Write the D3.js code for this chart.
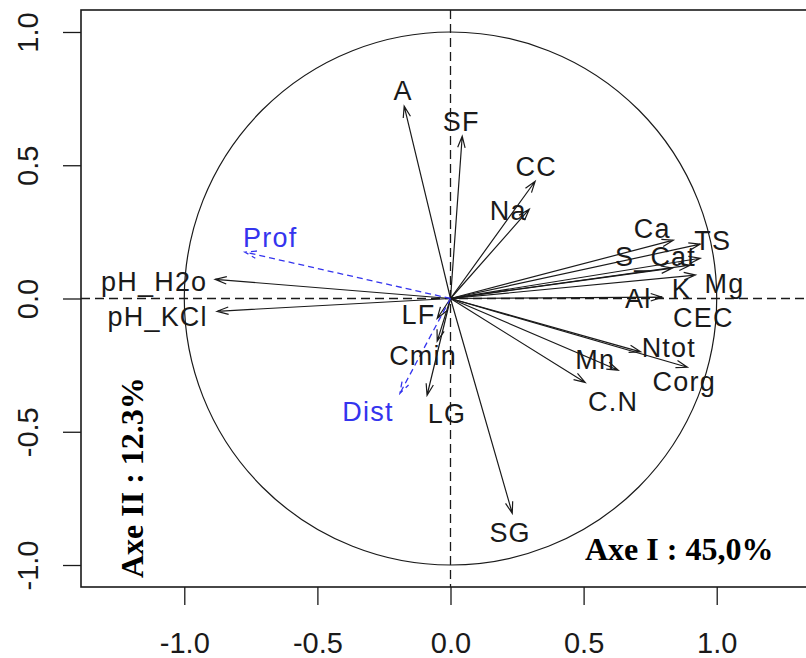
<!DOCTYPE html>
<html>
<head>
    <meta charset="UTF-8">
    <title>Cercle des corrélations</title>
    <script src="https://d3js.org/d3.v7.min.js"></script>
    <style>
        body { margin: 0; background: #fff; }
    </style>
</head>
<body>
    <svg class="chart"></svg>

    <script>
    // active variables: coordinates on axis I and II, and where the label sits
    const varNames = ["A", "SF", "CC", "Na", "Ca", "TS", "S_Cat", "K", "Mg", "CEC", "Al",
                      "Ntot", "Corg", "Mn", "C.N", "SG", "LG", "Cmin", "LF", "pH_KCl", "pH_H2o"];
    const axis1 = [-0.174, 0.044, 0.318, 0.296, 0.837, 0.938, 0.938, 0.834, 0.900, 0.920, 0.795,
                   0.714, 0.890, 0.630, 0.506, 0.232, -0.088, -0.050, -0.050, -0.877, -0.884];
    const axis2 = [0.722, 0.609, 0.440, 0.335, 0.219, 0.204, 0.151, 0.114, 0.125, 0.088, 0.005,
                   -0.200, -0.258, -0.269, -0.315, -0.806, -0.363, -0.160, -0.075, -0.048, 0.072];
    const labelX = [-0.178, 0.040, 0.322, 0.217, 0.758, 0.985, 0.770, 0.867, 1.029, 0.950, 0.705,
                    0.820, 0.878, 0.544, 0.611, 0.224, -0.013, -0.103, -0.120, -1.100, -1.113];
    const labelY = [0.781, 0.665, 0.496, 0.331, 0.264, 0.219, 0.160, 0.040, 0.057, -0.070, 0.000,
                    -0.183, -0.310, -0.228, -0.387, -0.877, -0.430, -0.213, -0.060, -0.066, 0.065];

    // supplementary variables (blue, dashed)
    const supNames = ["Prof", "Dist"];
    const supAxis1 = [-0.772, -0.190];
    const supAxis2 = [0.174, -0.356];
    const supLabelX = [-0.677, -0.310];
    const supLabelY = [0.230, -0.424];

    const ticks = [-1.0, -0.5, 0.0, 0.5, 1.0];
    const xTitle = "Axe I : 45,0%";
    const yTitle = "Axe II : 12.3%";

    const width = 806;
    const height = 658;
    const plot = {left: 81, right: 820, top: 10, bottom: 587};

    const svg = d3.select(".chart")
        .attr("width", width)
        .attr("height", height);

    const x_scale = d3.scaleLinear()
        .domain([-1.388, 1.388])
        .range([plot.left, plot.right]);

    const y_scale = d3.scaleLinear()
        .domain([-1.0825, 1.0825])
        .range([plot.bottom, plot.top]);

    const ink = "#1a1a1a";
    const blue = "#3434ee";
    const sans = "'Liberation Sans', Arial, sans-serif";
    const fmt = (d) => d3.format(".1f")(d).replace("\u2212", "-");

    // axes with long outward ticks
    const xAxis = svg.append("g")
        .attr("transform", `translate(0, ${plot.bottom})`)
        .call(d3.axisBottom(x_scale).tickValues(ticks).tickSize(18).tickSizeOuter(0).tickFormat(fmt));
    xAxis.select(".domain").remove();
    xAxis.selectAll("line").attr("stroke", ink).attr("stroke-width", 1.3);
    xAxis.selectAll("text")
        .attr("y", 66).attr("dy", 0)
        .attr("fill", ink)
        .style("font-family", sans).style("font-size", "29px");

    const yAxis = svg.append("g")
        .attr("transform", `translate(${plot.left}, 0)`)
        .call(d3.axisLeft(y_scale).tickValues(ticks).tickSize(18).tickSizeOuter(0).tickFormat(fmt));
    yAxis.select(".domain").remove();
    yAxis.selectAll("line").attr("stroke", ink).attr("stroke-width", 1.3);
    yAxis.selectAll("text")
        .attr("x", null).attr("dy", 0)
        .attr("transform", "translate(-43, 0) rotate(-90)")
        .attr("text-anchor", "middle")
        .attr("fill", ink)
        .style("font-family", sans).style("font-size", "29px");

    // clip for the drawing area
    svg.append("clipPath").attr("id", "plotclip")
        .append("rect")
        .attr("x", plot.left).attr("y", plot.top)
        .attr("width", plot.right - plot.left).attr("height", plot.bottom - plot.top);

    const chart = svg.append("g").attr("clip-path", "url(#plotclip)");

    // dashed reference lines through the origin
    chart.append("line")
        .attr("x1", plot.left).attr("x2", plot.right)
        .attr("y1", y_scale(0)).attr("y2", y_scale(0))
        .attr("stroke", ink).attr("stroke-width", 1.3).attr("stroke-dasharray", "9,5");
    chart.append("line")
        .attr("x1", x_scale(0)).attr("x2", x_scale(0))
        .attr("y1", plot.top).attr("y2", plot.bottom)
        .attr("stroke", ink).attr("stroke-width", 1.3).attr("stroke-dasharray", "9,5");

    // unit circle
    chart.append("ellipse")
        .attr("cx", x_scale(0)).attr("cy", y_scale(0))
        .attr("rx", x_scale(1) - x_scale(0))
        .attr("ry", y_scale(0) - y_scale(1))
        .attr("fill", "none").attr("stroke", ink).attr("stroke-width", 1.2);

    const active = varNames.map((n, i) => ({name: n, x: axis1[i], y: axis2[i], lx: labelX[i], ly: labelY[i]}));
    const sup = supNames.map((n, i) => ({name: n, x: supAxis1[i], y: supAxis2[i], lx: supLabelX[i], ly: supLabelY[i]}));

    // arrow = shaft + open V head
    function arrowPath(d) {
        const x0 = x_scale(0), y0 = y_scale(0);
        const x1 = x_scale(d.x), y1 = y_scale(d.y);
        const a = Math.atan2(y1 - y0, x1 - x0);
        const len = 12, spread = 18 * Math.PI / 180;
        const hx1 = x1 - len * Math.cos(a - spread), hy1 = y1 - len * Math.sin(a - spread);
        const hx2 = x1 - len * Math.cos(a + spread), hy2 = y1 - len * Math.sin(a + spread);
        return `M${x0},${y0}L${x1},${y1}M${hx1},${hy1}L${x1},${y1}L${hx2},${hy2}`;
    }

    chart.selectAll(".arrow")
        .data(active).enter().append("path")
        .attr("class", "arrow")
        .attr("d", arrowPath)
        .attr("fill", "none").attr("stroke", ink).attr("stroke-width", 1.2);

    chart.selectAll(".suparrow")
        .data(sup).enter().append("path")
        .attr("class", "suparrow")
        .attr("d", arrowPath)
        .attr("fill", "none").attr("stroke", blue).attr("stroke-width", 1.3)
        .attr("stroke-dasharray", "6,4");

    // variable labels
    chart.selectAll(".lab")
        .data(active).enter().append("text")
        .attr("class", "lab")
        .attr("x", (d) => x_scale(d.lx))
        .attr("y", (d) => y_scale(d.ly))
        .attr("dy", "0.36em")
        .attr("text-anchor", "middle")
        .attr("fill", ink)
        .style("font-family", sans).style("font-size", "27px")
        .style("letter-spacing", "1.2px")
        .text((d) => d.name);

    chart.selectAll(".suplab")
        .data(sup).enter().append("text")
        .attr("class", "suplab")
        .attr("x", (d) => x_scale(d.lx))
        .attr("y", (d) => y_scale(d.ly))
        .attr("dy", "0.36em")
        .attr("text-anchor", "middle")
        .attr("fill", blue)
        .style("font-family", sans).style("font-size", "27px")
        .style("letter-spacing", "1.2px")
        .text((d) => d.name);

    // plot frame
    svg.append("rect")
        .attr("x", plot.left).attr("y", plot.top)
        .attr("width", plot.right - plot.left).attr("height", plot.bottom - plot.top)
        .attr("fill", "none").attr("stroke", ink).attr("stroke-width", 1.6);

    // axis titles (bold serif, inside the frame)
    svg.append("text")
        .attr("x", 585).attr("y", 560)
        .attr("fill", "#000")
        .style("font-family", "'Liberation Serif', 'DejaVu Serif', serif")
        .style("font-weight", "bold").style("font-size", "32px")
        .text(xTitle);

    svg.append("text")
        .attr("transform", "translate(143, 578) rotate(-90)")
        .attr("fill", "#000")
        .style("font-family", "'Liberation Serif', 'DejaVu Serif', serif")
        .style("font-weight", "bold").style("font-size", "32px")
        .text(yTitle);
    </script>
</body>
</html>
